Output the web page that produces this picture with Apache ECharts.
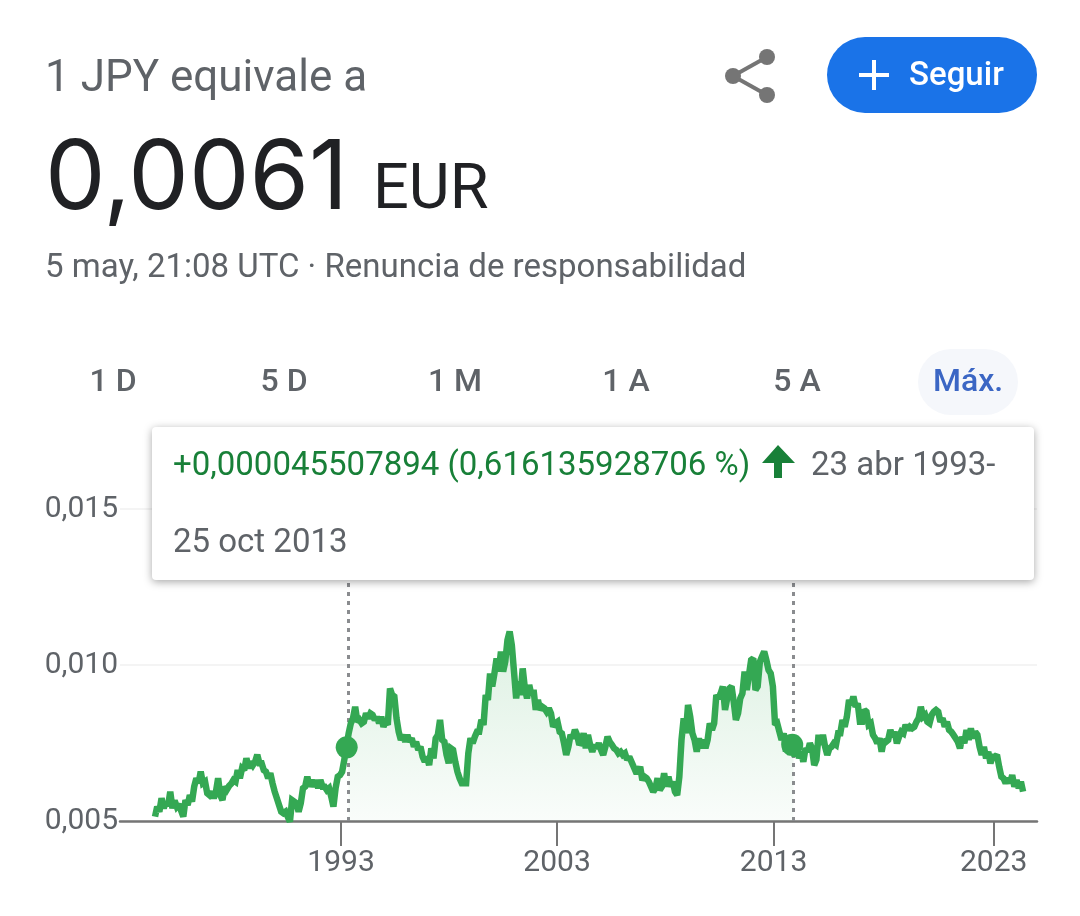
<!DOCTYPE html>
<html><head><meta charset="utf-8">
<style>html,body{margin:0;padding:0;background:#fff}#c{width:1080px;height:916px}</style>
<script src="https://cdn.jsdelivr.net/npm/echarts@6/dist/echarts.min.js"></script>
</head><body><div id="c"></div>
<script>
// EUR per 1000 JPY, every 0.1 year from 1984.45
const firstYear = 1984.45;
const yearStep = 0.1;
const ratePerThousand = [
5.14,5.46,5.30,5.73,5.41,5.62,5.48,5.94,5.41,5.65,
5.46,5.54,5.33,5.14,5.67,5.51,5.83,5.62,6.10,6.37,
6.21,6.58,6.21,6.26,5.89,5.83,5.94,5.73,5.94,6.37,
5.83,5.67,6.10,6.00,6.12,6.19,6.31,6.26,6.63,6.37,
6.69,6.63,7.01,6.69,6.90,6.79,6.90,7.12,6.85,6.85,
6.63,6.58,6.37,6.53,6.21,5.94,5.73,5.51,5.30,5.25,
5.30,5.14,4.98,5.67,5.62,5.57,5.30,5.57,6.05,6.10,
6.42,6.10,6.31,6.10,6.31,6.05,6.31,6.10,6.10,5.99,
6.05,5.78,5.46,6.05,6.42,6.47,6.58,6.96,7.38,7.81,
8.13,8.29,8.66,8.18,8.24,8.13,8.18,8.45,8.29,8.45,
8.40,8.24,8.34,8.13,8.34,8.02,8.18,8.08,9.25,9.04,
8.99,8.29,7.86,7.60,7.76,7.54,7.76,7.54,7.65,7.38,
7.54,7.28,7.38,7.06,6.90,7.06,6.79,7.33,7.01,7.65,
7.76,8.24,7.60,7.54,7.12,6.85,7.33,7.28,6.90,6.58,
6.37,6.21,6.21,6.21,7.17,7.65,7.49,7.70,7.86,7.86,
8.24,8.08,9.04,8.88,9.73,9.31,9.73,10.21,9.79,10.43,
9.79,10.11,10.80,11.07,10.64,9.79,8.93,9.47,9.04,9.89,
9.25,8.93,9.36,9.04,9.20,8.56,8.88,8.56,8.66,8.61,
8.50,8.61,8.45,8.02,8.13,8.18,7.86,7.81,7.49,7.12,
7.38,7.76,7.65,7.92,7.76,7.44,7.54,7.81,7.33,7.76,
7.44,7.22,7.44,7.33,7.49,7.28,7.12,7.38,7.70,7.54,
7.44,7.33,7.28,7.17,7.22,7.12,7.17,6.96,7.06,6.90,
6.74,6.58,6.58,6.74,6.31,6.42,6.37,6.26,6.10,5.94,
6.05,6.37,5.99,6.10,6.53,6.10,6.42,6.10,6.26,5.94,
5.83,6.42,7.60,8.29,7.81,8.72,8.34,7.81,7.60,7.22,
7.65,7.33,7.60,7.33,7.60,8.13,7.92,8.13,9.04,8.93,
9.09,9.31,8.56,8.93,9.25,9.31,8.82,8.24,8.45,8.93,
9.09,9.79,9.20,9.68,10.16,10.21,9.20,9.31,10.10,10.27,
10.43,10.16,9.84,9.73,9.31,8.08,8.13,7.86,7.60,7.81,
7.22,7.60,7.12,7.60,7.06,7.49,7.01,7.22,6.90,7.33,
7.22,7.49,7.33,6.79,6.96,7.76,7.44,7.76,7.38,7.12,
7.33,7.38,7.49,7.44,7.81,7.81,8.24,8.02,8.34,8.88,
8.72,8.99,8.66,8.77,8.18,8.18,8.56,8.50,8.08,8.13,
7.76,7.65,7.49,7.65,7.22,7.60,7.54,7.60,7.92,7.70,
7.86,7.49,7.70,7.86,7.81,8.08,7.92,8.02,7.97,8.02,
8.18,8.29,8.66,8.34,8.40,8.18,8.13,8.40,8.50,8.56,
8.50,8.18,8.29,8.02,8.18,7.92,7.86,7.76,7.65,7.54,
7.33,7.70,7.49,7.92,7.60,7.97,7.65,7.86,7.76,7.38,
7.12,7.38,7.01,7.22,6.85,7.06,7.06,7.12,6.74,6.42,
6.37,6.21,6.37,6.21,6.47,6.10,6.31,6.05,6.26,5.94
];
const rangeBounds = [1993.32,2013.80];
const dotYears = [1993.26,2013.74];
const dotRates = [7.36,7.44];
const axisYears = [1993,2003,2013,2023];
const axisYearPlaces = [1993,2002.93,2012.88,2023];
const yTicks = [0.005,0.010,0.015];

const GREEN='#34a853', GREY='#5f6368', FONT='Roboto';
const line = ratePerThousand.map((v,i)=>[+(firstYear+i*yearStep).toFixed(2), v/1000]);
const dots = dotYears.map((y,i)=>[y,dotRates[i]/1000]);
const area = [[rangeBounds[0],dots[0][1]],...line.filter(p=>p[0]>rangeBounds[0]&&p[0]<rangeBounds[1]),[rangeBounds[1],dots[1][1]]];

function txt(x,y,text,size,fill,weight,extra){
  return {type:'text',z:20,style:Object.assign({x,y,text,fill,fontSize:size,fontFamily:FONT,fontWeight:weight||400,textVerticalAlign:'middle',verticalAlign:'middle'},extra||{})};
}
const tabs=[['1 D',113],['5 D',284],['1 M',455],['1 A',626],['5 A',797]];
const graphic=[
  txt(45,80,'1 JPY equivale a',44,GREY),
  txt(45,180,'0,0061',96,'#202124',400,{fontFamily:'Inter'}),
  txt(373,192,'EUR',63,'#202124'),
  txt(45,269,'5 may, 21:08 UTC · Renuncia de responsabilidad',33,GREY),
  {type:'line',z:20,shape:{x1:767,y1:57,x2:733,y2:76},style:{stroke:'#757575',lineWidth:4}},
  {type:'line',z:20,shape:{x1:733,y1:76,x2:767,y2:95},style:{stroke:'#757575',lineWidth:4}},
  {type:'circle',z:20,shape:{cx:767,cy:57,r:8},style:{fill:'#757575'}},
  {type:'circle',z:20,shape:{cx:733,cy:76,r:8},style:{fill:'#757575'}},
  {type:'circle',z:20,shape:{cx:767,cy:95,r:8},style:{fill:'#757575'}},
  {type:'rect',z:20,shape:{x:827,y:37,width:210,height:76,r:38},style:{fill:'#1a73e8'}},
  {type:'rect',z:21,shape:{x:859,y:73,width:30,height:4},style:{fill:'#fff'}},
  {type:'rect',z:21,shape:{x:872,y:60,width:4,height:30},style:{fill:'#fff'}},
  txt(909,77,'Seguir',33,'#fff',500),
  {type:'rect',z:20,shape:{x:918,y:349,width:100,height:66,r:33},style:{fill:'#f5f7fb'}},
  ...tabs.map(t=>txt(t[1],383,t[0],32,GREY,500,{textAlign:'center',align:'center'})),
  {type:'rect',z:21,shape:{x:152,y:427,width:882,height:153,r:4},style:{fill:'#fff',shadowColor:'rgba(0,0,0,0.35)',shadowBlur:8,shadowOffsetY:2}},
  txt(968,383,'Máx.',32,'#3b66c4',500,{textAlign:'center',align:'center'}),
];
graphic.push(
  Object.assign(txt(173,467,'+0,000045507894 (0,616135928706 %)',33,'#188038'),{z:22}),
  {type:'polygon',z:22,shape:{points:[[778,445],[795,463],[782,463],[782,478],[774,478],[774,463],[762,463]]},style:{fill:'#188038'}},
  Object.assign(txt(811,467,'23 abr 1993-',33,GREY),{z:22}),
  Object.assign(txt(173,544,'25 oct 2013',33,GREY),{z:22})
);

const chart=echarts.init(document.getElementById('c'),null,{renderer:'canvas'});
chart.setOption({
  animation:false,
  backgroundColor:'#fff',
  grid:{left:120,right:43,top:509,bottom:95,containLabel:false},
  xAxis:{type:'value',min:1982.84,max:2024.99,
    axisLine:{show:true,onZero:false,lineStyle:{color:'#757575',width:2.5}},
    axisTick:{show:true,length:25,customValues:axisYearPlaces,lineStyle:{color:'#757575',width:2}},
    axisLabel:{show:true,customValues:axisYearPlaces,margin:0,color:GREY,fontSize:30,fontFamily:FONT,
      padding:[27,0,0,0],hideOverlap:false,showMinLabel:true,showMaxLabel:true,
      formatter:v=>String(axisYears[axisYearPlaces.findIndex(p=>Math.abs(p-v)<1e-6)])},
    splitLine:{show:false}},
  yAxis:{type:'value',min:yTicks[0],max:yTicks[2],interval:0.005,
    axisLine:{show:false},axisTick:{show:false},
    axisLabel:{margin:2,color:GREY,fontSize:30,fontFamily:FONT,padding:[3,0,0,0],formatter:v=>v.toFixed(3).replace('.',',')},
    splitLine:{show:true,lineStyle:{color:'#f4f4f4',width:2}}},
  series:[
    {name:'Rango',type:'line',data:area,showSymbol:false,z:1,silent:true,
      lineStyle:{width:0,opacity:0},
      areaStyle:{origin:'start',color:{type:'linear',x:0,y:0,x2:0,y2:1,colorStops:[
        {offset:0,color:'rgba(52,168,83,0.24)'},{offset:1,color:'rgba(52,168,83,0.04)'}]}},
      markLine:{z:2,silent:true,symbol:'none',label:{show:false},
        lineStyle:{color:'#8a8c8f',type:[4,5],width:3},
        data:rangeBounds.map(y=>({xAxis:y}))}},
    {name:'JPY/EUR',type:'line',data:line,showSymbol:false,z:3,clip:false,
      lineStyle:{color:GREEN,width:6.5,join:'miter',miterLimit:2}},
    {name:'Selección',type:'scatter',data:dots,symbolSize:22,z:4,clip:false,
      itemStyle:{color:GREEN,opacity:1}}
  ],
  graphic:{elements:graphic}
});
</script></body></html>
